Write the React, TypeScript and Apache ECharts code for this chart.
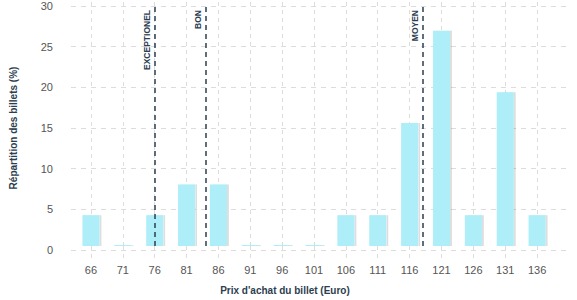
import React, { useEffect, useRef } from "react";
import * as echarts from "echarts";

const categories = ["66", "71", "76", "81", "86", "91", "96", "101", "106", "111", "116", "121", "126", "131", "136"];
const shares = [3.85, 0, 3.85, 7.69, 7.69, 0, 0, 0, 3.85, 3.85, 15.38, 26.92, 3.85, 19.23, 3.85];
const thresholdNames = ["EXCEPTIONEL", "BON", "MOYEN"];
const thresholdValues = [76, 84, 118];
const yTicks = { min: 0, max: 30, interval: 5 };

const FONT = "Liberation Sans, Arial, sans-serif";
const NAVY = "#2c3e50";
const GRID_GRAY = "#dcdcdc";

export default function App() {
  const ref = useRef<HTMLDivElement>(null);
  useEffect(() => {
    if (!ref.current) return;
    const chart = echarts.init(ref.current, undefined, { renderer: "svg" });
    const gridTop = 6;
    const gridBottom = 50;
    chart.setOption({
      animation: false,
      textStyle: { fontFamily: FONT },
      grid: [
        { left: 60, right: 10, top: gridTop, bottom: gridBottom },
        { left: 75, right: 24, top: gridTop, bottom: gridBottom },
      ],
      xAxis: [
        {
          type: "category",
          gridIndex: 1,
          data: categories,
          axisLine: { show: false },
          axisTick: {
            show: true,
            alignWithLabel: true,
            length: 15,
            lineStyle: { color: GRID_GRAY, type: [4, 4] },
          },
          axisLabel: { color: "#555", fontSize: 11, margin: 18, fontFamily: FONT },
          splitLine: { show: false },
          name: "Prix d'achat du billet (Euro)",
          nameLocation: "middle",
          nameGap: 39,
          nameTextStyle: {
            color: NAVY,
            fontWeight: "bold",
            fontSize: 10,
            fontFamily: FONT,
            padding: [0, 58, 0, 0],
          },
        },
        {
          type: "category",
          gridIndex: 1,
          data: categories,
          position: "bottom",
          axisLine: { show: false },
          axisLabel: { show: false },
          axisTick: {
            show: true,
            inside: true,
            alignWithLabel: true,
            length: 244,
            lineStyle: { color: GRID_GRAY, type: [4, 4] },
          },
          splitLine: { show: false },
        },
        {
          type: "value",
          gridIndex: 1,
          min: 63.5,
          max: 138.5,
          show: false,
        },
        {
          type: "value",
          gridIndex: 0,
          min: 0,
          max: 1,
          show: false,
        },
      ],
      yAxis: [
        {
          type: "value",
          gridIndex: 0,
          min: yTicks.min,
          max: yTicks.max,
          interval: yTicks.interval,
          axisLine: { show: false },
          axisTick: { show: false },
          axisLabel: { color: "#555", fontSize: 11, margin: 18, fontFamily: FONT },
          splitLine: { show: true, lineStyle: { color: GRID_GRAY, type: [5, 5] } },
          name: "Répartition des billets (%)",
          nameLocation: "middle",
          nameGap: 41,
          nameTextStyle: {
            color: NAVY,
            fontWeight: "bold",
            fontSize: 10,
            fontFamily: FONT,
            padding: [0, 0, 12, 0],
          },
        },
        {
          type: "value",
          gridIndex: 1,
          min: yTicks.min,
          max: yTicks.max,
          interval: yTicks.interval,
          show: false,
          splitLine: { show: false },
        },
      ],
      series: [
        {
          type: "bar",
          xAxisIndex: 0,
          yAxisIndex: 1,
          data: shares,
          barWidth: 17,
          barMinHeight: 1,
          itemStyle: {
            color: "#aeeef8",
            shadowColor: "rgba(0,0,0,0.13)",
            shadowOffsetX: 2,
            shadowOffsetY: 0,
            shadowBlur: 0,
          },
        },
        {
          type: "line",
          xAxisIndex: 2,
          yAxisIndex: 1,
          data: [],
          markLine: {
            silent: true,
            symbol: "none",
            lineStyle: { color: NAVY, type: [5, 4], width: 1.5 },
            label: {
              show: true,
              position: "insideEndTop",
              formatter: "{b}",
              color: NAVY,
              fontSize: 8.5,
              fontWeight: "bold",
              fontFamily: FONT,
              distance: [4, 3],
            },
            data: thresholdValues.map((v, i) => ({ name: thresholdNames[i], xAxis: v })),
          },
        },
      ],
    });
    return () => chart.dispose();
  }, []);
  return (
    <div
      ref={ref}
      style={{ position: "absolute", left: 0, top: 0, width: 577, height: 300 }}
    />
  );
}
